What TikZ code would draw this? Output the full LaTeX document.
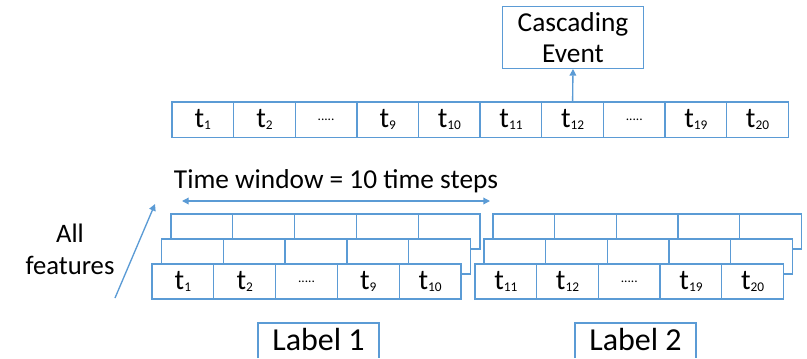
\documentclass[tikz,border=0pt]{standalone}
\usepackage{fontspec}
\setmainfont{Carlito}
\usetikzlibrary{arrows.meta}
\definecolor{bl}{HTML}{5B9BD5}
\newcommand{\tsub}[1]{t\raisebox{-0.15ex}{\fontsize{10}{10}\selectfont #1}}
\newcommand{\dotsx}{{\fontsize{10}{10}\selectfont .....}}
\begin{document}
\begin{tikzpicture}[x=0.75pt,y=-0.75pt,
  cellbox/.style={draw=bl,fill=white,line width=1pt,inner sep=0pt,minimum width=46.2pt,minimum height=26.5pt,font=\fontsize{21.5}{21.5}\selectfont},
  bcell/.style={cellbox,minimum width=46.35pt,minimum height=26.25pt},
  conn/.style={draw=bl,line width=1pt,-{Triangle[length=5pt,width=5pt]}},
  lbltext/.style={inner sep=0pt,font=\fontsize{24}{24}\selectfont},
  lblframe/.style={draw=bl,line width=1pt}
]
\useasboundingbox (0,0) rectangle (807,358);

% top row
\foreach \i/\txt in {1/\tsub{1},2/\tsub{2},3/\dotsx,4/\tsub{9},5/\tsub{10},6/\tsub{11},7/\tsub{12},8/\dotsx,9/\tsub{19},10/\tsub{20}}{
  \node[cellbox] (top\i) at ({172+61.63*(\i-0.5)},119.7) {\txt};
}

% cascading event
\node[draw=bl,line width=1pt,inner sep=0pt,minimum width=105.5pt,minimum height=46.2pt,align=center,font=\fontsize{20.5}{23.6}\selectfont] (ce) at (573,37.5) {Cascading\\Event};
\draw[conn] (top7.north) -- (ce.south);

% time window
\node[font=\fontsize{20.5}{20.5}\selectfont] (tw) at (336,181) {Time window = 10 time steps};
\coordinate (wl) at (182,201);
\coordinate (wr) at (490,201);
\draw[draw=bl,line width=1pt,{Triangle[length=5pt,width=5pt]}-{Triangle[length=5pt,width=5pt]}] (wl) -- (wr);

% all features
\node[font=\fontsize{20}{20}\selectfont,anchor=base] (all) at (70,242) {All};
\node[font=\fontsize{20}{20}\selectfont,anchor=base] (feat) at (70,274) {features};
\coordinate (af1) at (115,298);
\coordinate (af2) at (155,204);
\draw[conn] (af1) -- (af2);

% group 1 layers
\foreach \L/\dx/\ty in {b/19/214,m/9.5/239}{
  \foreach \i in {1,...,5}{
    \node[bcell] (ga\L\i) at ({152+\dx+61.8*(\i-0.5)},{\ty+17.5}) {};
  }
}
\foreach \i/\txt in {1/\tsub{1},2/\tsub{2},3/\dotsx,4/\tsub{9},5/\tsub{10}}{
  \node[bcell] (gaf\i) at ({152+61.8*(\i-0.5)},281.5) {\txt};
}
% group 2 layers
\foreach \L/\dx/\ty in {b/18/214,m/9/239}{
  \foreach \i in {1,...,5}{
    \node[bcell] (gb\L\i) at ({475+\dx+61.7*(\i-0.5)},{\ty+17.5}) {};
  }
}
\foreach \i/\txt in {1/\tsub{11},2/\tsub{12},3/\dotsx,4/\tsub{19},5/\tsub{20}}{
  \node[bcell] (gbf\i) at ({475+61.7*(\i-0.5)},281.5) {\txt};
}

% labels (frames open at the bottom edge of the picture)
\node[lbltext] (l1) at (318.5,340) {Label 1};
\node[lbltext] (l2) at (635.5,340) {Label 2};
\draw[lblframe] ([shift={(-60.5,18)}]l1.center) -- ++(0,-35) -- ++(121,0) -- ++(0,35);
\draw[lblframe] ([shift={(-60.5,18)}]l2.center) -- ++(0,-35) -- ++(121,0) -- ++(0,35);
\end{tikzpicture}
\end{document}
